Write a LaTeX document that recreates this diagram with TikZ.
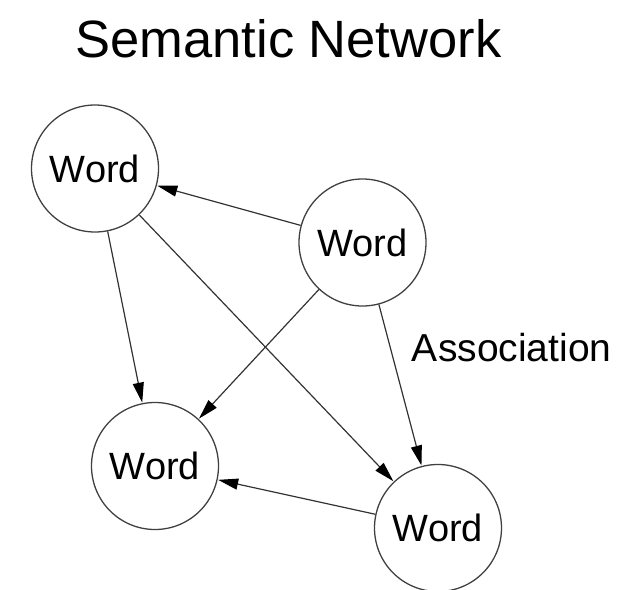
\documentclass[tikz,border=0pt]{standalone}
\usepackage{fontspec}
\setmainfont{Liberation Sans}
\usetikzlibrary{arrows.meta}
\begin{document}
\begin{tikzpicture}[x=1pt,y=-1pt,
  word/.style={circle,draw=black!75,line width=1.3pt,minimum size=127pt,inner sep=0pt,font=\fontsize{38}{40}\selectfont},
  assoc/.style={draw=black!80,line width=1.2pt,-{Triangle[length=20pt,width=11pt,color=black]},shorten >=0.5pt}
]
\useasboundingbox (0,0) rectangle (626,589);
\node[anchor=base,font=\fontsize{52.5}{56}\selectfont] (title) at (288.5,57) {Semantic Network};
\node[word] (tl) at (95,168.5) {Word};
\node[word] (tr) at (362.5,242.5) {Word};
\node[word] (bl) at (155,466) {Word};
\node[word] (br) at (438,528) {Word};
\node[anchor=base,inner sep=0pt,font=\fontsize{39}{42}\selectfont] (lab) at (511.7,361.7) {Association};
\draw[assoc] (tr) -- (tl);
\draw[assoc] (tl) -- (bl);
\draw[assoc] (tl) -- (br);
\draw[assoc] (tr) -- (bl);
\draw[assoc] (tr) -- (br);
\draw[assoc] (br) -- (bl);
\end{tikzpicture}
\end{document}
